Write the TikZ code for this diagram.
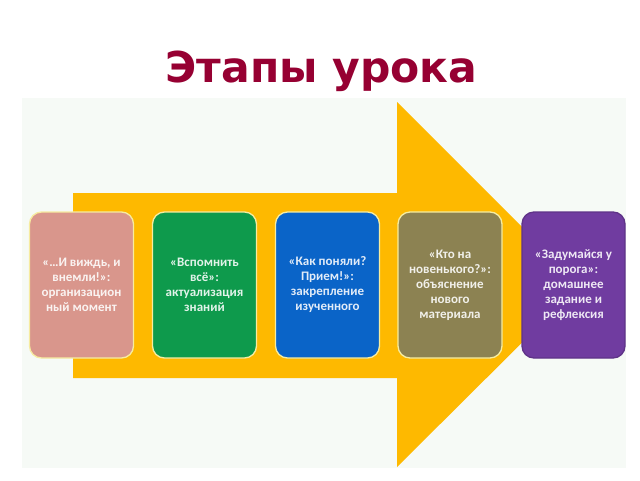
\documentclass[tikz,border=0pt]{standalone}
\usepackage{fontspec}
\setmainfont{Carlito}
\newfontfamily\titlefont{DejaVu Sans}
\definecolor{titlered}{RGB}{150,0,50}
\definecolor{panelbg}{RGB}{246,250,246}
\definecolor{arrowyellow}{RGB}{254,185,0}
\definecolor{edgeyellow}{RGB}{246,236,160}
\definecolor{boxpink}{RGB}{217,150,140}
\definecolor{boxgreen}{RGB}{14,154,76}
\definecolor{boxblue}{RGB}{10,100,200}
\definecolor{boxolive}{RGB}{140,130,82}
\definecolor{boxpurple}{RGB}{112,60,160}
\tikzset{
  stagebox/.style={rounded corners=12pt, minimum width=104pt, minimum height=146pt,
    draw=edgeyellow, line width=1.3pt, fill=#1, text=white!88!#1,
    font=\bfseries\fontsize{13}{15}\selectfont, align=center, inner sep=2pt},
  titletext/.style={font=\titlefont\bfseries\fontsize{42.5}{48}\selectfont, text=titlered}
}
\begin{document}
\begin{tikzpicture}[x=1pt,y=-1pt]
\useasboundingbox (0,0) rectangle (640,480);
\fill[white] (0,0) rectangle (640,480);
\fill[panelbg] (22,98) rectangle (626,468);
\node[titletext, anchor=base] (title) at (321.5,82) {Этапы урока};
\fill[arrowyellow] (73,193) -- (397,193) -- (397,102) -- (580,285) -- (397,467) -- (397,378) -- (73,378) -- cycle;
\node[stagebox=boxpink] (s1) at (81.5,285) {«…И виждь, и\\внемли!»:\\организацион\\ный момент};
\node[stagebox=boxgreen] (s2) at (204.5,285) {«Вспомнить\\всё»:\\актуализация\\знаний};
\node[stagebox=boxblue] (s3) at (327.5,285) {«Как поняли?\\Прием!»:\\закрепление\\изученного};
\node[stagebox=boxolive] (s4) at (450,285) {«Кто на\\новенького?»:\\объяснение\\нового\\материала};
\node[stagebox=boxpurple, draw=boxpurple!85!black, minimum width=103pt] (s5) at (573.5,285) {«Задумайся у\\порога»:\\домашнее\\задание и\\рефлексия};
\end{tikzpicture}
\end{document}
